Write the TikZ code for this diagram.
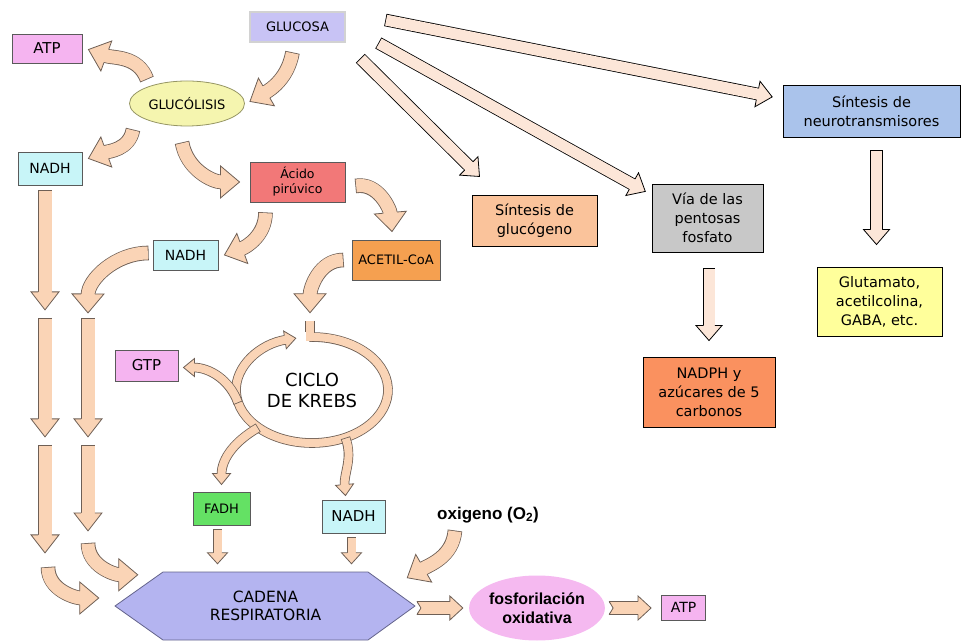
\documentclass[tikz,border=0pt]{standalone}
\usepackage{fontspec}
\setmainfont{DejaVu Sans}
\newfontfamily\boldsans{Liberation Sans}
\usetikzlibrary{shapes.geometric,calc,decorations.markings}
\definecolor{arrfill}{RGB}{250,212,182}
\definecolor{arrline}{RGB}{110,95,85}
\definecolor{lightfill}{RGB}{252,230,216}
\definecolor{boxline}{RGB}{90,90,90}
\definecolor{glufill}{RGB}{200,195,245}
\definecolor{pinkfill}{RGB}{245,180,240}
\definecolor{glcfill}{RGB}{245,245,175}
\definecolor{cyanfill}{RGB}{200,245,248}
\definecolor{pirfill}{RGB}{242,120,120}
\definecolor{acefill}{RGB}{245,160,80}
\definecolor{fadfill}{RGB}{100,225,100}
\definecolor{cadfill}{RGB}{180,180,240}
\definecolor{fosfill}{RGB}{245,185,240}
\definecolor{glyfill}{RGB}{250,195,155}
\definecolor{pentfill}{RGB}{200,200,200}
\definecolor{neufill}{RGB}{170,195,235}
\definecolor{nadphfill}{RGB}{250,145,95}
\definecolor{glutfill}{RGB}{255,255,155}
\tikzset{box/.style={draw=boxline,line width=0.8pt,inner sep=0pt,align=center},
  rbox/.style={draw=black,line width=0.8pt,inner sep=0pt,align=center,font=\fontsize{14.5}{19}\selectfont},
  lab/.style={font=\fontsize{14}{16}\selectfont},
  fat/.style n args={3}{preaction={draw=arrline,line width=#1+1.6pt,shorten >=#3-1pt,shorten <=0pt},
    draw=arrfill,line width=#1,shorten >=#3-1pt,shorten <=0.8pt,
    postaction={decorate,decoration={markings,mark=at position 0.999 with {
      \fill[arrfill] (-#3,-#2) -- (0pt,0pt) -- (-#3,#2) -- cycle;
      \draw[arrline,line width=0.8pt,shorten >=0pt,shorten <=0pt]
        (-#3,{#1/2+0.4pt}) -- (-#3,#2) -- (0pt,0pt) -- (-#3,-#2) -- (-#3,{-#1/2-0.4pt});}}}},
  notch/.style={postaction={decorate,decoration={markings,mark=at position 0 with {
      \fill[white] (-1pt,-#1) -- (4pt,0pt) -- (-1pt,#1) -- cycle;
      \draw[arrline,line width=0.8pt,shorten >=0pt,shorten <=0pt] (0pt,-#1) -- (4pt,0pt) -- (0pt,#1);}}}},
  stub/.style={preaction={draw=arrline,line width=9.6pt,shorten >=9pt},draw=arrfill,line width=8pt,shorten <=0.8pt},
  bigarrow/.style={fat={13pt}{16pt}{19pt}},
  colarrow/.style={fat={13pt}{14pt}{18pt}},
  ringarrow/.style={fat={8pt}{9pt}{11pt}},
  smallarrow/.style={fat={8pt}{10pt}{11pt}},
  flatarrow/.style={fat={12pt}{12pt}{13pt},notch=6.8pt},
  lightarrow/.style={fat={11pt}{13pt}{15pt}}}

\begin{document}
\begin{tikzpicture}[x=1pt,y=1pt]
\useasboundingbox (0,0) rectangle (961,643);

\node[box,draw=gray!70!black,double=gray!35,double distance=1.5pt,line width=0.7pt,fill=glufill,minimum width=95,minimum height=30,font=\fontsize{13}{15}\selectfont] (glu) at (297.5,616) {GLUCOSA};
\node[box,fill=pinkfill,minimum width=70,minimum height=29,font=\fontsize{15}{17}\selectfont] (atp1) at (47,594.5) {ATP};
\node[ellipse,draw={rgb,255:red,150;green,150;blue,100},fill=glcfill,line width=0.8pt,minimum width=115,minimum height=45,inner sep=0pt,font=\fontsize{13}{15}\selectfont] (glc) at (187,539.5) {GLUCÓLISIS};
\node[box,fill=cyanfill,minimum width=64,minimum height=33,lab] (nadh1) at (50,474.5) {NADH};
\node[box,fill=pirfill,minimum width=95,minimum height=40,font=\fontsize{12.5}{15}\selectfont] (pir) at (297.5,461) {Ácido\\pirúvico};
\node[box,fill=cyanfill,minimum width=65,minimum height=30,lab] (nadh2) at (185.5,388) {NADH};
\node[box,fill=acefill,minimum width=88,minimum height=40,font=\fontsize{13}{15}\selectfont] (ace) at (396,383) {ACETIL-CoA};
\node[box,fill=pinkfill,minimum width=63,minimum height=31,font=\fontsize{15}{17}\selectfont] (gtp) at (146.5,277.5) {GTP};
\node[ellipse,inner sep=0pt,minimum width=152,minimum height=106,align=center,font=\fontsize{18}{21}\selectfont] (krebs) at (312,253) {CICLO\\DE KREBS};
\node[box,fill=fadfill,minimum width=57,minimum height=33,font=\fontsize{13}{15}\selectfont] (fadh) at (221.5,134.5) {FADH};
\node[box,fill=cyanfill,minimum width=63,minimum height=33,font=\fontsize{15}{17}\selectfont] (nadh3) at (353.5,126.5) {NADH};
\node[font=\boldsans\bfseries\fontsize{17}{20}\selectfont] (oxi) at (488,128) {oxigeno (O\textsubscript{2})};

\coordinate (cadc) at (265.5,37);
\draw[draw={rgb,255:red,100;green,100;blue,140},fill=cadfill,line width=0.8pt] ($(cadc)+(-102.5,34)$) -- ++(205,0) -- ++(47,-34) -- ++(-47,-34) -- ++(-205,0) -- ++(-48,34) -- cycle;
\node[minimum width=205,minimum height=68,inner sep=0pt,align=center,font=\fontsize{15.5}{18}\selectfont] (cad) at (cadc) {CADENA\\RESPIRATORIA};
\node[ellipse,fill=fosfill,minimum width=130,minimum height=65,inner sep=0pt,align=center,font=\boldsans\bfseries\fontsize{16}{19}\selectfont] (fos) at (537,35) {fosforilación\\oxidativa};
\node[box,fill=pinkfill,minimum width=44,minimum height=25,font=\fontsize{14}{16}\selectfont] (atp2) at (683.5,35.5) {ATP};

\node[rbox,fill=glyfill,minimum width=125,minimum height=51] (glyc) at (534.5,422.5) {Síntesis de\\glucógeno};
\node[rbox,fill=pentfill,minimum width=111,minimum height=68] (pent) at (707.5,425) {Vía de las\\pentosas\\fosfato};
\node[rbox,fill=neufill,minimum width=177,minimum height=52] (neu) at (871.5,532) {Síntesis de\\neurotransmisores};
\node[rbox,fill=nadphfill,minimum width=132,minimum height=70] (nadph) at (709,251) {NADPH y\\azúcares de 5\\carbonos};
\node[rbox,fill=glutfill,minimum width=125,minimum height=69] (glut) at (879.5,341.5) {Glutamato,\\acetilcolina,\\GABA, etc.};

\coordinate (a1) at (45,333);
\coordinate (a2) at (45,325);
\coordinate (a3) at (45,206);
\coordinate (a4) at (45,198);
\coordinate (a5) at (45,90);
\coordinate (a6) at (48,76);
\coordinate (b0) at (88,330);
\coordinate (b1) at (88,325);
\coordinate (b2) at (88,206);
\coordinate (b3) at (88,198);
\coordinate (b4) at (88,112);
\coordinate (b5) at (88,100);

\draw[bigarrow] ($(glu.south)+(-5,-10)$) to[out=-100,in=30] ($(glc.east)+(5,2)$);
\draw[bigarrow] ($(glc.center)+(-40,24)$) to[out=110,in=-20] ($(atp1.east)+(6,-1)$);
\draw[bigarrow] ($(glc.center)+(-54,-26)$) to[out=-100,in=20] ($(nadh1.east)+(6,10)$);
\draw[bigarrow] ($(glc.south)+(-5,-16)$) to[out=-80,in=180] ($(pir.west)+(-10,0)$);
\draw[bigarrow] ($(pir.east)+(10,-4)$) to[out=10,in=95] ($(ace.north)+(-4,8)$);
\draw[bigarrow] ($(pir.south)+(-32,-10)$) to[out=-90,in=20] ($(nadh2.east)+(6,0)$);
\draw[bigarrow] ($(nadh2.west)+(-4,2)$) to[out=180,in=90] (b0);
\draw[bigarrow] ($(ace.west)+(-8,0)$) to[out=180,in=90] ($(krebs.north)+(-2,24)$);

\draw[colarrow] ($(nadh1.south)+(-5,-5)$) -- (a1);
\draw[colarrow] (a2) -- (a3);
\draw[colarrow] (a4) -- (a5);
\draw[bigarrow] (a6) to[out=-90,in=180] ($(cad.west)+(-64,8)$);
\draw[colarrow] (b1) -- (b2);
\draw[colarrow] (b3) -- (b4);
\draw[bigarrow] (b5) to[out=-90,in=180] ($(cad.north west)+(-25,-3)$);

\draw[ringarrow] ($(krebs.center)+(92:76 and 53)$) arc[start angle=92,end angle=-258,x radius=76,y radius=53];
\draw[ringarrow] (krebs.190) to[out=110,in=0] ($(gtp.east)+(5,-2)$);
\draw[ringarrow] (krebs.215) to[out=210,in=90] ($(fadh.north)+(0,7)$);
\draw[ringarrow] (krebs.-55) to[out=-70,in=95] ($(nadh3.north)+(-8,4)$);
\draw[stub] ($(krebs.north)+(-2,17)$) -- ($(krebs.north)+(-2,-4)$);

\draw[smallarrow] ($(fadh.south)+(-4,-4)$) -- ($(fadh.south |- cad.north)+(-4,8)$);
\draw[smallarrow] ($(nadh3.south)+(-2,-4)$) -- ($(nadh3.south |- cad.north)+(-2,8)$);
\draw[bigarrow] ($(oxi.south)+(-33,-4)$) to[out=-95,in=30] ($(cad.north east)+(39,-6)$);
\draw[flatarrow] ($(fos.west)+(-52,0)$) -- ($(fos.west)+(-6,0)$);
\draw[flatarrow] ($(fos.east)+(4,0)$) -- ($(atp2.west |- fos.east)+(-10,0)$);

\begin{scope}
\colorlet{arrfill}{lightfill}
\colorlet{arrline}{black}
\draw[lightarrow] ($(glu.east)+(40,7)$) -- ($(neu.west)+(-10,14)$);
\draw[lightarrow] ($(glu.east)+(33,-16)$) -- ($(pent.north west)+(-6,-8)$);
\draw[lightarrow] ($(glu.south east)+(15,-16)$) -- ($(glyc.north west)+(8,18)$);
\draw[lightarrow] ($(neu.south)+(5,-13)$) -- ($(glut.north)+(-3,22)$);
\draw[lightarrow] ($(pent.south)+(1.5,-16)$) -- ($(nadph.north)+(0,16)$);
\end{scope}
\end{tikzpicture}
\end{document}
